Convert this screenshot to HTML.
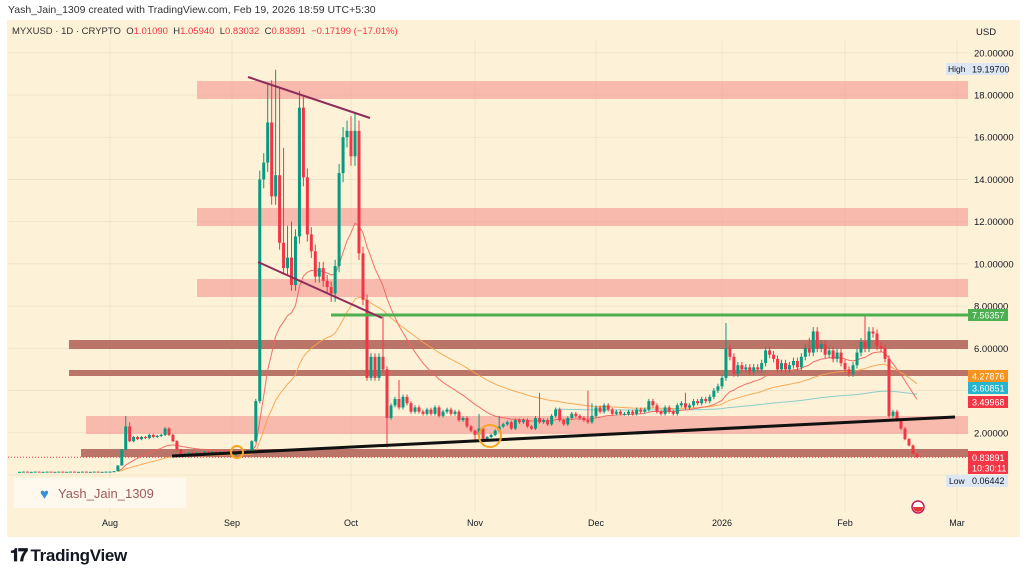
<!DOCTYPE html>
<html><head><meta charset="utf-8">
<style>
html,body{margin:0;padding:0;background:#fff;width:1024px;height:578px;overflow:hidden;font-family:"Liberation Sans",sans-serif}
#credit{position:absolute;left:8px;top:4px;font-size:10.5px;color:#333}
#panel{position:absolute;left:7px;top:20px;width:1013px;height:517px;background:#fdf2d7}
#chart{position:absolute;left:0;top:0}
#legend{position:absolute;left:12px;top:26px;font-size:9.5px;color:#333}
#legend .r{color:#f23645}
#footer{position:absolute;left:10px;top:545px;font-size:17px;font-weight:bold;color:#131722;letter-spacing:-0.3px}
</style></head><body>
<div id="credit">Yash_Jain_1309 created with TradingView.com, Feb 19, 2026 18:59 UTC+5:30</div>
<div id="panel"></div>
<svg id="chart" width="1024" height="578"></svg>
<div id="legend">MYXUSD · 1D · CRYPTO &nbsp;O<span class="r">1.01090</span> &nbsp;H<span class="r">1.05940</span> &nbsp;L<span class="r">0.83032</span> &nbsp;C<span class="r">0.83891</span> &nbsp;<span class="r">−0.17199 (−17.01%)</span></div>
<div id="footer"><span style="font-size:18px;letter-spacing:-2px">𝟏𝟕</span> TradingView</div>
<script>
// day offsets from Aug 1; first candle = Jul 9
const startOffset = -23;
const closes = [
0.15,0.16,0.15,0.15,0.16,0.15,0.15,0.16,0.15,0.15,0.16,0.15,0.15,0.16,0.15,0.15,0.16,0.15,0.15,0.16,0.15,0.15,0.16,
0.16,0.18,0.45,1.2,2.3,1.6,1.8,1.7,1.8,1.75,1.9,1.8,1.85,1.9,2.2,1.9,1.6,1.2,0.95,1.0,1.05,0.95,1.05,1.0,1.1,1.05,1.1,1.05,1.1,1.05,1.1,
0.95,1.0,1.1,1.05,1.15,1.6,3.5,14.0,14.8,16.7,13.2,14.2,11.0,9.8,10.3,9.0,11.3,17.4,14.1,11.4,10.6,9.4,9.8,9.2,8.9,8.6,9.9,14.3,16.0,16.3,
15.1,16.3,10.5,8.3,4.6,5.6,4.6,5.6,5.0,2.7,3.3,3.6,3.2,3.7,3.4,3.0,3.2,3.0,2.9,3.1,2.9,3.2,2.8,3.0,3.1,2.9,3.0,2.6,2.7,2.3,2.1,
1.9,2.2,1.7,1.8,1.9,2.1,2.3,2.4,2.5,2.2,2.6,2.5,2.6,2.3,2.2,2.7,2.5,2.6,2.4,2.8,3.1,2.6,2.4,2.7,2.9,2.8,2.7,2.6,2.5,2.8,
3.2,3.0,3.3,3.1,2.9,3.0,2.9,2.9,3.0,2.9,3.1,3.0,3.1,3.5,3.3,3.0,2.9,3.2,3.0,2.9,3.3,3.4,3.2,3.3,3.5,3.4,3.6,3.5,3.7,4.0,4.2,
4.6,6.0,5.6,4.8,5.2,5.0,5.1,4.9,5.1,5.0,5.3,5.9,5.7,5.5,5.0,5.3,5.0,5.2,5.4,5.1,5.6,6.0,5.8,6.8,6.0,6.2,5.7,5.9,5.5,5.8,5.3,
5.0,4.8,5.2,5.8,6.3,6.0,6.8,6.7,6.1,6.0,5.5,2.8,3.0,2.6,2.2,1.7,1.4,1.01,0.84];
// notable wick extremes (candle index -> price)
const spikeIdx   = [27,28,62,63,64,65,66,67,68,69,71,72,73,81,84,85,92,96,116,121,131,143,144,167,177,198,212];
const spikeHigh  = [2.8,2.5,15,18.6,18.7,19.2,18.4,15.5,11.8,12,18.2,17.5,14.5,11,17,17.2,7.5,4.5,2.9,2.8,3.9,4.0,3.4,3.9,7.2,6.5,7.6];
const dipIdx     = [93,79,80,115];
const dipLow     = [1.3,8.2,8.2,1.55];
const priceTicks = [2,6,8,10,12,14,16,18,20];
const priceTickLabels = ["2.00000","6.00000","8.00000","10.00000","12.00000","14.00000","16.00000","18.00000","20.00000"];
const monthOffsets = [0,31,61,92,122,153,184,212];
const monthLabels = ["Aug","Sep","Oct","Nov","Dec","2026","Feb","Mar"];
const monthX = [110,232,351,475,596,722,845,957];

const NS="http://www.w3.org/2000/svg", svg=document.getElementById('chart');
function y(p){return 475 - p*21.11;}
function x(off){
  for(let i=0;i<monthOffsets.length-1;i++){
    if(off<=monthOffsets[i+1]||i==monthOffsets.length-2){
      const a=monthOffsets[i],b=monthOffsets[i+1];
      return monthX[i]+(off-a)*(monthX[i+1]-monthX[i])/(b-a);
    }
  }
}
function mk(tag,attrs,parent){const e=document.createElementNS(NS,tag);for(const k in attrs)e.setAttribute(k,attrs[k]);(parent||svg).appendChild(e);return e;}

// grid
const grid=mk('g',{});


priceTicks.concat([4,0]).forEach(p=>mk('line',{x1:8,x2:968,y1:y(p),y2:y(p),stroke:'rgba(0,0,0,0.05)'},grid));
monthOffsets.forEach(o=>mk('line',{x1:x(o),x2:x(o),y1:40,y2:512,stroke:'rgba(0,0,0,0.05)'},grid));

// zones
const zones=[[197,81,18,'rgba(245,140,140,0.55)'],[197,208,18,'rgba(245,140,140,0.55)'],[197,279,18,'rgba(245,140,140,0.55)'],[86,416,18,'rgba(245,140,140,0.55)'],
[69,340,9,'rgba(175,95,85,0.85)'],[69,370,6,'rgba(175,95,85,0.85)'],[81,449,8,'rgba(175,95,85,0.85)']];
zones.forEach((z,i)=>{const r=mk('rect',{x:z[0],y:z[1],width:968-z[0],height:z[2],fill:z[3]});

});

// dotted last price line
const dl=mk('line',{x1:8,x2:968,y1:y(0.84),y2:y(0.84),stroke:'#f23645','stroke-dasharray':'1 2','stroke-width':1});



// MAs
function ema(n){let out=[],e=closes[0],a=2/(n+1);closes.forEach(c=>{e=a*c+(1-a)*e;out.push(e);});return out;}
function drawLine(vals,from,color,name){
  let d='';vals.forEach((v,i)=>{if(i<from)return;d+=(d?'L':'M')+x(startOffset+i).toFixed(1)+','+y(v).toFixed(1);});
  const p=mk('path',{d:d,fill:'none',stroke:color,'stroke-width':1,opacity:0.9});
  
  
}
drawLine(ema(200),135,'#7fc8c8','ma-200-line');
drawLine(ema(50),25,'#f7a24a','ma-50-line');
drawLine(ema(20),25,'#f0625e','ma-20-line');

// candles
const cg=mk('g',{});


closes.forEach((c,i)=>{
  const o=i?closes[i-1]:c, up=c>=o, col=up?'#089981':'#f23645', cx=x(startOffset+i);
  let hi=Math.max(o,c)*1.03, lo=Math.min(o,c)*0.97;
  const si=spikeIdx.indexOf(i); if(si>=0)hi=Math.max(hi,spikeHigh[si]);
  const di=dipIdx.indexOf(i); if(di>=0)lo=Math.min(lo,dipLow[di]);
  const w=mk('line',{x1:cx,x2:cx,y1:y(hi),y2:y(lo),stroke:col,'stroke-width':1},cg);
  
  
  const top=y(Math.max(o,c)),h=Math.max(1,y(Math.min(o,c))-top);
  const b=mk('rect',{x:cx-1.5,y:top,width:3,height:h,fill:col},cg);
  
  
});

// drawings
const drw=[[331,315,968,315,'#4caf50',3,'resistance-line'],[248,77,370,118,'#8e2c5a',2,'upper-channel-line'],[258,262,382,318,'#8e2c5a',2,'lower-channel-line'],[172,456,955,417,'#111',3,'trend-support-line']];
drw.forEach(l=>{const e=mk('line',{x1:l[0],y1:l[1],x2:l[2],y2:l[3],stroke:l[4],'stroke-width':l[5]});

});
[[237,452,6],[490,436,11]].forEach((c,i)=>{const e=mk('circle',{cx:c[0],cy:c[1],r:c[2],fill:'none',stroke:'#f5a623','stroke-width':2});

});

// price axis
function txt(s,xx,yy,attrs,name){const t=mk('text',Object.assign({x:xx,y:yy,'font-size':'9.5','font-family':'Liberation Sans, sans-serif',fill:'#131722'},attrs||{}));t.textContent=s;

return t;}
txt('USD',976,35,{},'currency-label');
priceTicks.forEach((p,i)=>txt(priceTickLabels[i],974,y(p)+3.5,{},'price-tick-label'));
function tag(label,py,bg,fg,name,h){h=h||12;const r=mk('rect',{x:968,y:py-h/2,width:40,height:h,fill:bg});


txt(label,972,py+3.5,{fill:fg,'font-size':'9'},name);}
const hb=mk('rect',{x:946,y:63,width:22,height:12,fill:'#dde6f3'});


txt('High',948,72,{'font-size':'8.5'},'high-label');
tag('19.19700',69,'#dde6f3','#131722','high-price-tag');
tag('7.56357',315,'#4caf50','#fff','resistance-price-tag');
tag('4.27876',376,'#f7931e','#fff','ma50-price-tag');
tag('3.60851',388,'#26b5cc','#fff','ma200-price-tag');
tag('3.49968',402,'#f23645','#fff','ma20-price-tag');
const lb=mk('rect',{x:968,y:451,width:40,height:23,fill:'#f23645'});


txt('0.83891',972,461,{fill:'#fff','font-size':'9'},'last-price-tag');
txt('10:30:11',972,471.5,{fill:'#fff','font-size':'9'},'countdown-tag');
const lwb=mk('rect',{x:946,y:475,width:62,height:12,fill:'#dde6f3'});


txt('Low',949,484,{'font-size':'8.5'},'low-label');
txt('0.06442',972,484,{'font-size':'9'},'low-price-tag');

// time axis
monthLabels.forEach((m,i)=>txt(m,monthX[i],526,{'text-anchor':'middle','font-size':'9'},'time-tick-label'));

// watermark
const wm=mk('rect',{x:14,y:478,width:172,height:30,fill:'#fff8ec'});


txt('♥',40,499,{fill:'#3d8fd9','font-size':'15'},'watermark-heart');
txt('Yash_Jain_1309',58,498,{fill:'#a05a5a','font-size':'13'},'watermark-text');

// flag icon
const fl=mk('circle',{cx:918,cy:507,r:6,fill:'#fff',stroke:'#c2185b','stroke-width':1.5});


const fl2=mk('path',{d:'M913,507 h10 a5,5 0 0 1 -10,0z',fill:'#e53935'});


</script>
</body></html>
